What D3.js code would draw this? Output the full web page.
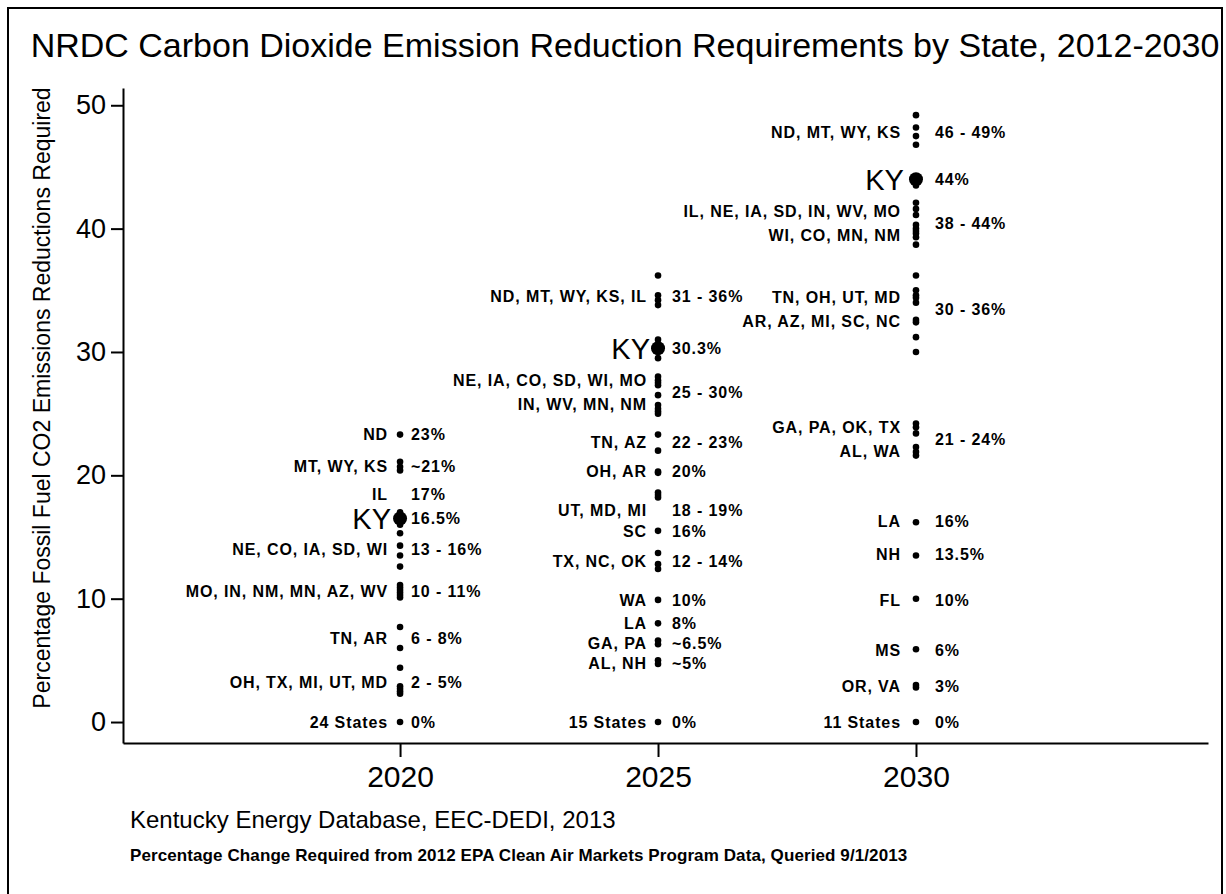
<!DOCTYPE html>
<html>
<head>
<meta charset="utf-8">
<script src="https://cdn.jsdelivr.net/npm/d3@7"></script>
<style>
  body { margin: 0; background: #fff; }
  svg { display: block; font-family: Arial, "Liberation Sans", sans-serif; }
  .lbl { font-size: 16px; font-weight: bold; letter-spacing: 0.9px; }
</style>
</head>
<body>
<svg id="chart" width="1226" height="894"></svg>
<script>
// columns and axis ticks
var years = [2020, 2025, 2030];
var yTicks = [0, 10, 20, 30, 40, 50];

// Kentucky's own requirement per year
var kyShare = [16.5, 30.3, 44];
var kyText = ["16.5%", "30.3%", "44%"];

// one value per state (or state group)
var states2020 = [23.3, 21.1, 20.7, 20.4, 17, 16, 15.3, 14.3, 13.5, 12.6,
  11.1, 10.9, 10.7, 10.5, 10.3, 10.1, 7.7, 6.0, 4.4, 2.9, 2.7, 2.5, 2.3, 0];
var states2025 = [36.2, 34.6, 34.2, 33.8, 31, 29.5, 28.0, 27.7, 27.5, 27.3,
  26.5, 25.7, 25.4, 25.2, 25.0, 23.3, 22.0, 20.3, 20.2, 18.6, 18.4, 18.2,
  15.5, 13.7, 12.8, 12.4, 9.9, 8.0, 6.6, 6.3, 5.0, 4.7, 0];
var states2030 = [49.2, 48.2, 47.5, 46.8, 44, 43.5, 42.1, 41.6, 41.1, 40.3,
  40.0, 39.8, 39.6, 39.3, 38.7, 36.2, 35.0, 34.6, 34.4, 34.0, 32.6, 32.4,
  31.2, 30.0, 24.2, 23.9, 23.4, 22.3, 21.9, 21.6, 16.2, 13.5, 10.0, 5.9,
  3.0, 2.8, 0];

// annotation text: state names (left of dots) and range (right)
var labels2020 = [
  {at: 23.3, names: ["ND"], range: "23%"},
  {at: 20.7, names: ["MT, WY, KS"], range: "~21%"},
  {at: 18.5, names: ["IL"], range: "17%"},
  {at: 14.0, names: ["NE, CO, IA, SD, WI"], range: "13 - 16%"},
  {at: 10.6, names: ["MO, IN, NM, MN, AZ, WV"], range: "10 - 11%"},
  {at: 6.8, names: ["TN, AR"], range: "6 - 8%"},
  {at: 3.2, names: ["OH, TX, MI, UT, MD"], range: "2 - 5%"},
  {at: 0, names: ["24 States"], range: "0%"}
];
var labels2025 = [
  {at: 34.5, names: ["ND, MT, WY, KS, IL"], range: "31 - 36%"},
  {at: 26.7, names: ["NE, IA, CO, SD, WI, MO", "IN, WV, MN, NM"], range: "25 - 30%"},
  {at: 22.7, names: ["TN, AZ"], range: "22 - 23%"},
  {at: 20.3, names: ["OH, AR"], range: "20%"},
  {at: 17.2, names: ["UT, MD, MI"], range: "18 - 19%"},
  {at: 15.5, names: ["SC"], range: "16%"},
  {at: 13.0, names: ["TX, NC, OK"], range: "12 - 14%"},
  {at: 9.9, names: ["WA"], range: "10%"},
  {at: 8.0, names: ["LA"], range: "8%"},
  {at: 6.4, names: ["GA, PA"], range: "~6.5%"},
  {at: 4.8, names: ["AL, NH"], range: "~5%"},
  {at: 0, names: ["15 States"], range: "0%"}
];
var labels2030 = [
  {at: 47.8, names: ["ND, MT, WY, KS"], range: "46 - 49%"},
  {at: 40.4, names: ["IL, NE, IA, SD, IN, WV, MO", "WI, CO, MN, NM"], range: "38 - 44%"},
  {at: 33.5, names: ["TN, OH, UT, MD", "AR, AZ, MI, SC, NC"], range: "30 - 36%"},
  {at: 22.9, names: ["GA, PA, OK, TX", "AL, WA"], range: "21 - 24%"},
  {at: 16.3, names: ["LA"], range: "16%"},
  {at: 13.6, names: ["NH"], range: "13.5%"},
  {at: 9.9, names: ["FL"], range: "10%"},
  {at: 5.8, names: ["MS"], range: "6%"},
  {at: 2.9, names: ["OR, VA"], range: "3%"},
  {at: 0, names: ["11 States"], range: "0%"}
];

var columns = [
  {year: 2020, values: states2020, labels: labels2020, ky: 0, leftGap: 12, rightGap: 11},
  {year: 2025, values: states2025, labels: labels2025, ky: 1, leftGap: 11, rightGap: 14},
  {year: 2030, values: states2030, labels: labels2030, ky: 2, leftGap: 15, rightGap: 19}
];

var svg = d3.select('#chart');

// frame
svg.append('rect')
  .attr('x', 8).attr('y', 8)
  .attr('width', 1214).attr('height', 900)
  .attr('fill', 'none').attr('stroke', '#000').attr('stroke-width', 2);

var x = d3.scaleLinear().domain([2014.63, 2035.66]).range([123, 1208]);
var y = d3.scaleLinear().domain([-1.7, 51.4]).range([743, 88]);

// title
svg.append('text')
  .attr('x', 625).attr('y', 57)
  .attr('text-anchor', 'middle')
  .style('font-size', '34px')
  .text('NRDC Carbon Dioxide Emission Reduction Requirements by State, 2012-2030');

// axes
var yAxis = svg.append('g')
  .attr('transform', 'translate(' + x.range()[0] + ',0)')
  .call(d3.axisLeft(y).tickValues(yTicks).tickSize(12).tickPadding(5).tickSizeOuter(0));
yAxis.selectAll('text').style('font-size', '27px').attr('font-family', null);

var xAxis = svg.append('g')
  .attr('transform', 'translate(0,' + y.range()[0] + ')')
  .call(d3.axisBottom(x).tickValues(years).tickFormat(d3.format('d')).tickSize(14).tickPadding(9).tickSizeOuter(0));
xAxis.selectAll('text').style('font-size', '30px').attr('font-family', null);

svg.selectAll('.domain, .tick line').attr('stroke', '#000').attr('stroke-width', 2);

// y axis title
svg.append('text')
  .attr('transform', 'translate(50,' + 398 + ') rotate(-90)')
  .attr('text-anchor', 'middle')
  .style('font-size', '23px')
  .text('Percentage Fossil Fuel CO2 Emissions Reductions Required');

// dots and labels per column
columns.forEach(function(col) {
  var cx = x(col.year);
  var g = svg.append('g');

  g.selectAll('circle.state')
    .data(col.values)
    .enter().append('circle')
    .attr('class', 'state')
    .attr('cx', cx)
    .attr('cy', d => y(d))
    .attr('r', 3.3)
    .attr('fill', '#000');

  g.append('circle')
    .attr('cx', cx)
    .attr('cy', y(kyShare[col.ky]))
    .attr('r', 7)
    .attr('fill', '#000');

  g.append('text')
    .attr('x', cx - col.leftGap + 3)
    .attr('y', y(kyShare[col.ky]))
    .attr('dy', '0.36em')
    .attr('text-anchor', 'end')
    .style('font-size', '29px')
    .text('KY');

  g.append('text')
    .attr('class', 'lbl')
    .attr('x', cx + col.rightGap)
    .attr('y', y(kyShare[col.ky]))
    .attr('dy', '0.36em')
    .text(kyText[col.ky]);

  col.labels.forEach(function(l) {
    var n = l.names.length;
    l.names.forEach(function(name, i) {
      g.append('text')
        .attr('class', 'lbl')
        .attr('x', cx - col.leftGap)
        .attr('y', y(l.at) + (i - (n - 1) / 2) * 24)
        .attr('dy', '0.36em')
        .attr('text-anchor', 'end')
        .text(name);
    });
    g.append('text')
      .attr('class', 'lbl')
      .attr('x', cx + col.rightGap)
      .attr('y', y(l.at))
      .attr('dy', '0.36em')
      .text(l.range);
  });
});

// source notes
svg.append('text')
  .attr('x', 130).attr('y', 828)
  .style('font-size', '24px')
  .text('Kentucky Energy Database, EEC-DEDI, 2013');

svg.append('text')
  .attr('x', 130).attr('y', 861)
  .style('font-size', '17px')
  .style('font-weight', 'bold')
  .style('letter-spacing', '0.1px')
  .text('Percentage Change Required from 2012 EPA Clean Air Markets Program Data, Queried 9/1/2013');
</script>
</body>
</html>
